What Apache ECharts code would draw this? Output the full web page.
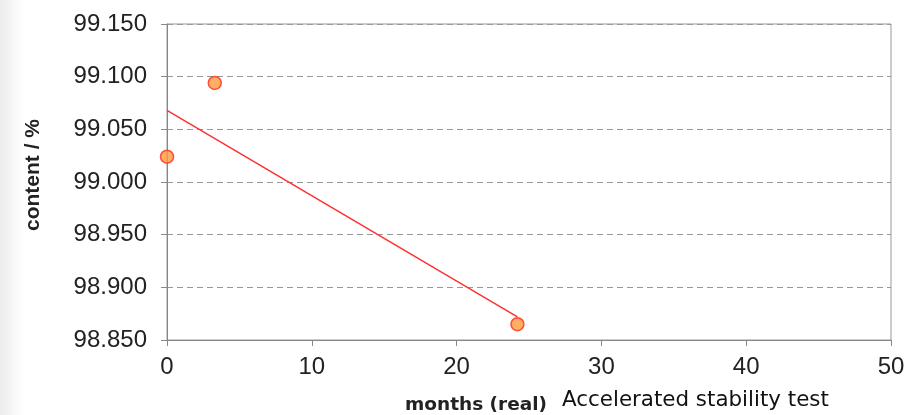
<!DOCTYPE html>
<html><head><meta charset="utf-8">
<script src="https://cdn.jsdelivr.net/npm/echarts@6/dist/echarts.min.js"></script>
<style>html,body{margin:0;padding:0;background:#fff}#c{width:909px;height:415px}</style>
</head><body><div id="c"></div>
<script>
const months = [0, 3.3, 24.2];
const content = [99.024, 99.094, 98.865];
const trendMonths = [0, 24.2];
const trendContent = [99.068, 98.872];
const xTicks = [0, 10, 20, 30, 40, 50];
const yTicks = [98.85, 98.9, 98.95, 99.0, 99.05, 99.1, 99.15];

const chart = echarts.init(document.getElementById('c'), null, {renderer: 'canvas'});
chart.setOption({
  backgroundColor: '#fff',
  animation: false,
  graphic: [
    {type: 'rect', left: 0, top: 0, z: -10, shape: {width: 24, height: 415},
     style: {fill: new echarts.graphic.LinearGradient(0, 0, 1, 0, [{offset: 0, color: '#ececec'}, {offset: 1, color: '#ffffff'}])}},
    {type: 'text', x: 33, y: 175, rotation: Math.PI / 2,
     style: {text: 'content / %', font: 'bold 21px "Liberation Sans", Arial, sans-serif', fill: '#222', align: 'center', verticalAlign: 'middle'}},
    {type: 'text', left: 405, top: 396, style: {text: 'months (real)', font: 'bold 18.5px "DejaVu Sans", Verdana, sans-serif', fill: '#222'}},
    {type: 'text', left: 562, top: 390, style: {text: 'Accelerated stability test', font: '21.4px "DejaVu Sans", Verdana, sans-serif', fill: '#111'}}
  ],
  grid: {left: 167, right: 18, top: 24, bottom: 75, show: true, borderColor: '#999', borderWidth: 1},
  xAxis: {
    type: 'value', min: xTicks[0], max: xTicks[xTicks.length - 1], interval: 10,
    axisLine: {show: true, lineStyle: {color: '#888'}},
    axisTick: {show: true, length: 6, lineStyle: {color: '#888'}},
    splitLine: {show: false},
    axisLabel: {fontSize: 24, color: '#222', fontFamily: '"Liberation Sans", Arial, sans-serif', margin: 15}
  },
  yAxis: {
    type: 'value', min: yTicks[0], max: yTicks[yTicks.length - 1], interval: 0.05,
    axisLine: {show: true, lineStyle: {color: '#888'}},
    axisTick: {show: true, length: 6, lineStyle: {color: '#888'}},
    splitLine: {show: true, lineStyle: {color: '#999', type: [6, 4], width: 1}},
    axisLabel: {fontSize: 24, color: '#222', fontFamily: '"Liberation Sans", Arial, sans-serif', margin: 20,
      formatter: v => v.toFixed(3)}
  },
  series: [
    {type: 'line', data: trendMonths.map((m, i) => [m, trendContent[i]]), symbol: 'none',
     lineStyle: {color: '#ff3030', width: 1.5}, z: 2},
    {type: 'scatter', data: months.map((m, i) => [m, content[i]]), symbolSize: 13,
     itemStyle: {color: '#ff9a3c', borderColor: '#ff2a1a', borderWidth: 1.5}, z: 3}
  ]
});
</script></body></html>
